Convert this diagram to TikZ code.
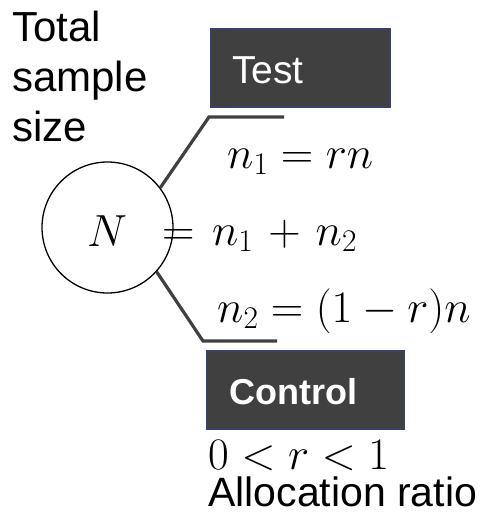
\RequirePackage{fix-cm}
\documentclass[tikz,border=0pt]{standalone}
\usepackage{fontspec}
\setmainfont{Liberation Sans}
\begin{document}
\begin{tikzpicture}[x=1pt,y=-1pt,
  lbl/.style={inner sep=0pt,anchor=base west,font=\fontsize{42}{50}\selectfont},
  mth/.style={inner sep=0pt,anchor=base west,font=\fontsize{45}{50}\selectfont},
  grp/.style={draw=boxedge,line width=1.5pt,fill=boxfill,text=white,inner sep=0pt},
  conn/.style={draw=boxfill,line width=3.2pt,line join=miter}]
\definecolor{boxfill}{HTML}{404040}
\definecolor{boxedge}{HTML}{3B3F6B}
\useasboundingbox (0,0) rectangle (491,517);
% label top left
\node[lbl] (tot1) at (12,41) {Total};
\node[lbl] (tot2) at (12,91) {sample};
\node[lbl] (tot3) at (12,141) {size};
% circle
\node[draw,circle,line width=1.3pt,minimum size=131pt,inner sep=0pt] (N) at (107.5,227.5) {};
\node[mth,anchor=base] (Nl) at (107,246) {$N$};
\node[mth] (eq) at (162,245) {$\medmuskip=6mu\thickmuskip=7mu = n_1 + n_2$};
% Test box
\node[grp,minimum width=179pt,minimum height=78pt] (test) at (300.5,68) {};
\node[inner sep=0pt,anchor=base west,text=white,font=\fontsize{39}{44}\selectfont] (testl) at (232,83) {Test};
% Control box
\node[grp,minimum width=197pt,minimum height=78pt] (ctrl) at (305.5,390) {};
\node[inner sep=0pt,anchor=base west,text=white,font=\fontsize{36}{40}\selectfont\bfseries] (ctrll) at (229,404) {Control};
% formulas
\node[mth] (f1) at (227,168) {$n_1 = rn$};
\node[mth] (f2) at (217,322) {$n_2 = (1-r)n$};
\node[mth] (f3) at (208,469) {$0<r<1$};
\node[lbl,font=\fontsize{41}{46}\selectfont] (alloc) at (208,506) {Allocation ratio};
% connectors
\coordinate (c1) at (209,117);
\coordinate (e1) at (284,117);
\coordinate (c2) at (203,341);
\coordinate (e2) at (277,341);
\draw[conn] (N.37) -- (c1) -- (e1);
\draw[conn] (N.-42) -- (c2) -- (e2);
\end{tikzpicture}
\end{document}
